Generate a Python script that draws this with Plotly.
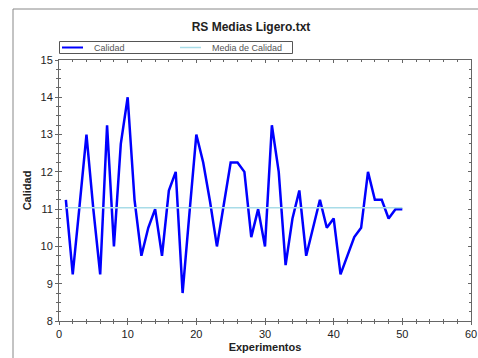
import plotly.graph_objects as go

experimentos = list(range(1, 51))
calidad = [11.25, 9.25, 11.1, 13, 11, 9.25, 13.25, 10, 12.75, 14,
           11.25, 9.75, 10.5, 11, 9.75, 11.5, 12, 8.75, 10.9, 13,
           12.25, 11.2, 10, 11.1, 12.25, 12.25, 12, 10.25, 11, 10,
           13.25, 12, 9.5, 10.75, 11.5, 9.75, 10.5, 11.25, 10.5, 10.75,
           9.25, 9.75, 10.25, 10.5, 12, 11.25, 11.25, 10.75, 11, 11]
media_x = [1, 50]
media_y = [11.04, 11.04]
series_names = ["Calidad", "Media de Calidad"]
series_colors = ["#0000ff", "#a8dce8"]

FONT = "Liberation Sans, Arial, sans-serif"
AX = "#666666"
W, H = 478, 358
PL, PT, PW, PH = 59, 60, 412, 261  # plot area in pixels


def px(x):
    return (x - PL) / PW


def py(y):
    return (PT + PH - y) / PH


fig = go.Figure()
fig.add_trace(go.Scatter(x=experimentos, y=calidad, mode="lines", name=series_names[0],
                         line=dict(color=series_colors[0], width=2.5)))
fig.add_trace(go.Scatter(x=media_x, y=media_y, mode="lines", name=series_names[1],
                         line=dict(color=series_colors[1], width=1.5)))
fig.add_trace(go.Scatter(x=[0], y=[8], xaxis="x2", yaxis="y2", mode="markers",
                         marker=dict(opacity=0), showlegend=False, hoverinfo="skip"))

shapes = [
    # outer chart frame
    dict(type="rect", xref="paper", yref="paper",
         x0=px(13), x1=px(490), y0=py(370), y1=py(9),
         line=dict(color="#888888", width=1), fillcolor="rgba(0,0,0,0)", layer="below"),
    # legend box
    dict(type="rect", xref="paper", yref="paper",
         x0=px(59.5), x1=px(292.5), y0=py(53.5), y1=py(41.5),
         line=dict(color="#555555", width=1), fillcolor="white"),
]
annotations = []
leg_starts = [62, 180]
for name, color, x0 in zip(series_names, series_colors, leg_starts):
    shapes.append(dict(type="line", xref="paper", yref="paper",
                       x0=px(x0), x1=px(x0 + 21), y0=py(47.5), y1=py(47.5),
                       line=dict(color=color, width=2 if color == "#0000ff" else 1.5)))
    annotations.append(dict(text=name, xref="paper", yref="paper",
                            x=px(x0 + 30), y=py(47.5),
                            xanchor="left", yanchor="middle", showarrow=False,
                            font=dict(size=9, color="#555555")))

fig.update_layout(
    width=W, height=H,
    margin=dict(l=PL, r=W - PL - PW, t=PT, b=H - PT - PH, autoexpand=False),
    paper_bgcolor="white", plot_bgcolor="white",
    font=dict(family=FONT, size=11, color="#222222"),
    title=dict(text="<b>RS Medias Ligero.txt</b>", x=px(251), xref="paper",
               xanchor="center", y=1 - 27 / H, yanchor="middle",
               font=dict(size=12, color="#222222")),
    showlegend=False,
    xaxis=dict(range=[0, 60], dtick=10, showgrid=False, zeroline=False, automargin=False,
               showline=True, linecolor=AX, linewidth=1, mirror=True,
               ticks="outside", ticklen=3, tickcolor=AX,
               minor=dict(dtick=2, ticks="outside", ticklen=2, tickcolor=AX),
               title=dict(text="<b>Experimentos</b>", font=dict(size=11), standoff=4),
               tickfont=dict(size=11)),
    yaxis=dict(range=[8, 15], dtick=1, showgrid=False, zeroline=False, automargin=False,
               showline=True, linecolor=AX, linewidth=1, mirror=True,
               ticks="outside", ticklen=3, tickcolor=AX,
               minor=dict(dtick=0.25, ticks="outside", ticklen=2, tickcolor=AX),
               title=dict(text="<b>Calidad</b>", font=dict(size=11), standoff=6),
               tickfont=dict(size=11)),
    xaxis2=dict(range=[0, 60], dtick=10, overlaying="x", anchor="y", showgrid=False,
                zeroline=False, showline=False, mirror="ticks", ticks="inside",
                ticklen=3, tickcolor=AX, showticklabels=False, automargin=False,
                minor=dict(dtick=2, ticks="inside", ticklen=2, tickcolor=AX)),
    yaxis2=dict(range=[8, 15], dtick=1, overlaying="y", anchor="x", showgrid=False,
                zeroline=False, showline=False, mirror="ticks", ticks="inside",
                ticklen=3, tickcolor=AX, showticklabels=False, automargin=False,
                minor=dict(dtick=0.25, ticks="inside", ticklen=2, tickcolor=AX)),
    shapes=shapes,
    annotations=annotations,
)

fig.write_html(
    "out.html",
    config={"displayModeBar": False},
    post_script="document.body.style.margin='0';document.body.style.overflow='hidden';",
)
